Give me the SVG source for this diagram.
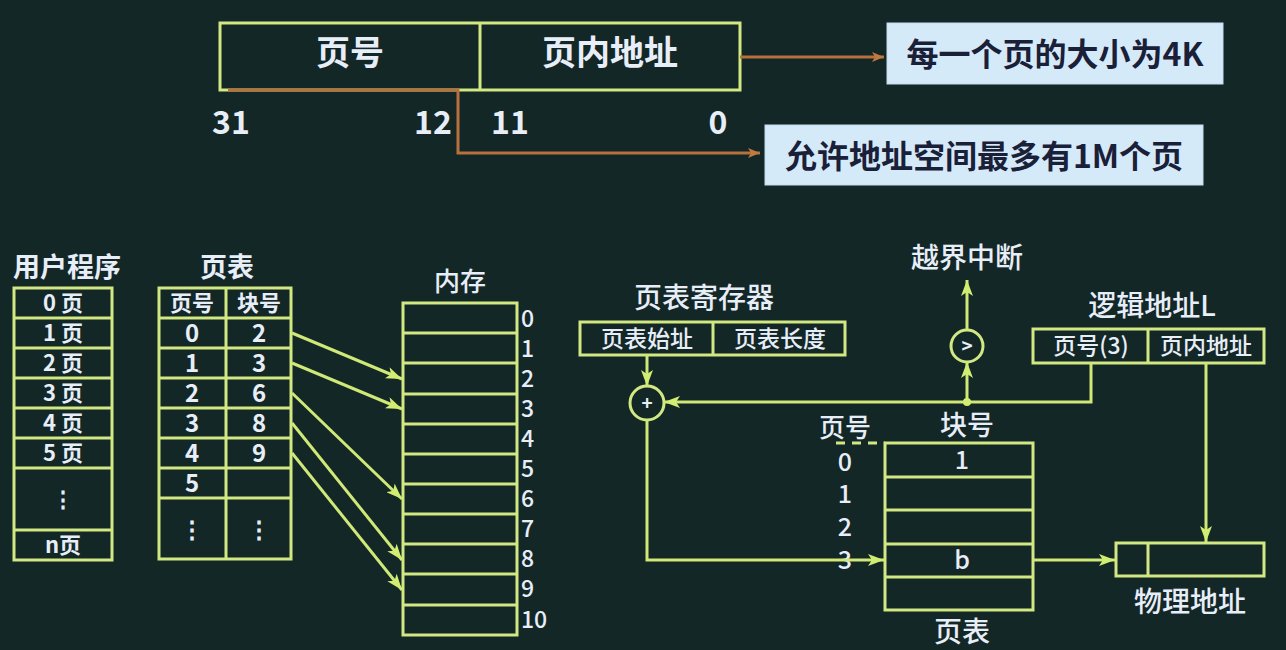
<svg xmlns="http://www.w3.org/2000/svg" width="1286" height="650" viewBox="0 0 1286 650">
<defs>
<style>
.g{fill:none;stroke:#d2e882;stroke-width:3}
.gl{fill:none;stroke:#cfe877;stroke-width:3}
.or{fill:none;stroke:#b8713c;stroke-width:3}
.t{font-family:"Noto Sans CJK SC","Noto Sans",sans-serif;fill:#e8eef8;text-anchor:middle}
.b{font-weight:bold}
.m{font-weight:500}
.dk{font-family:"Noto Sans CJK SC","Noto Sans",sans-serif;fill:#1a2038;font-weight:bold;text-anchor:middle;font-size:32px}
.blue{fill:#d5eaf8;stroke:#c4dcee;stroke-width:1}
</style>
<marker id="ag" markerUnits="userSpaceOnUse" markerWidth="18" markerHeight="12" refX="16" refY="6" orient="auto">
<path d="M0,0 L16,6 L0,12 L4,6 z" fill="#d2ee70"/>
</marker>
<marker id="ao" markerUnits="userSpaceOnUse" markerWidth="14" markerHeight="10" refX="12" refY="5" orient="auto">
<path d="M0,0 L12,5 L0,10 L3,5 z" fill="#c07a40"/>
</marker>
</defs>
<rect width="1286" height="650" fill="#132727"/>

<g id="logical-address-format">
<rect x="220" y="23" width="520" height="67" class="g" fill="#112222"/>
<line x1="480" y1="23" x2="480" y2="90" class="g"/>
<text x="350" y="65" class="t b" font-size="34">页号</text>
<text x="610" y="65" class="t b" font-size="34">页内地址</text>
<text x="231" y="134" class="t b" font-size="32">31</text>
<text x="433" y="134" class="t b" font-size="32">12</text>
<text x="510" y="134" class="t b" font-size="32">11</text>
<text x="718" y="134" class="t b" font-size="32">0</text>
</g>

<g id="note-page-size">
<rect x="887" y="23" width="336" height="61" class="blue"/>
<text x="1055" y="66" class="dk">每一个页的大小为4K</text>
</g>
<g id="note-page-count">
<rect x="765" y="125" width="438" height="60" class="blue"/>
<text x="984" y="168" class="dk">允许地址空间最多有1M个页</text>
</g>

<g id="user-program">
<text x="67" y="277" class="t b" font-size="27">用户程序</text>
<rect x="14" y="288" width="98" height="272" class="g" fill="#0d1c1c"/>
<path d="M14 318H112M14 348H112M14 378H112M14 408H112M14 438H112M14 468H112M14 530H112" class="g"/>
<g class="t b" font-size="22">
<text x="63" y="311">0 页</text>
<text x="63" y="341">1 页</text>
<text x="63" y="371">2 页</text>
<text x="63" y="401">3 页</text>
<text x="63" y="431">4 页</text>
<text x="63" y="461">5 页</text>
<text x="63" y="507">⋮</text>
<text x="63" y="553">n页</text>
</g>
</g>

<g id="page-table-left">
<text x="227" y="277" class="t b" font-size="27">页表</text>
<rect x="159" y="288" width="132" height="271" class="g" fill="#0d1c1c"/>
<path d="M226 288V559M159 318H291M159 348H291M159 378H291M159 408H291M159 438H291M159 468H291M159 498H291" class="g"/>
<g class="t b" font-size="22">
<text x="192" y="311">页号</text>
<text x="259" y="311">块号</text>
</g>
<g class="t b" font-size="24">
<text x="192" y="342">0</text><text x="259" y="342">2</text>
<text x="192" y="372">1</text><text x="259" y="372">3</text>
<text x="192" y="402">2</text><text x="259" y="402">6</text>
<text x="192" y="432">3</text><text x="259" y="432">8</text>
<text x="192" y="462">4</text><text x="259" y="462">9</text>
<text x="192" y="492">5</text>
<text x="192" y="538">⋮</text><text x="259" y="538">⋮</text>
</g>
</g>

<g id="memory">
<text x="460" y="291" class="t m" font-size="26">内存</text>
<rect x="403" y="303" width="114" height="332" class="g" fill="#0d1c1c"/>
<path d="M403 333H517M403 363H517M403 394H517M403 424H517M403 454H517M403 484H517M403 514H517M403 544H517M403 574H517M403 605H517" class="g"/>
<g class="t m" font-size="23" style="text-anchor:start">
<text x="521" y="327">0</text>
<text x="521" y="357">1</text>
<text x="521" y="387">2</text>
<text x="521" y="417">3</text>
<text x="521" y="447">4</text>
<text x="521" y="477">5</text>
<text x="521" y="507">6</text>
<text x="521" y="537">7</text>
<text x="521" y="567">8</text>
<text x="521" y="597">9</text>
<text x="521" y="628">10</text>
</g>
</g>

<g id="page-table-register">
<text x="704" y="308" class="t m" font-size="28">页表寄存器</text>
<rect x="580" y="322" width="265" height="33" class="g" fill="#0d1c1c"/>
<line x1="713" y1="322" x2="713" y2="355" class="g"/>
<text x="647" y="347" class="t m" font-size="23">页表始址</text>
<text x="780" y="347" class="t m" font-size="23">页表长度</text>
</g>

<g id="adder">
<circle cx="647" cy="403" r="17" class="g" fill="#0d1c1c"/>
<text x="647" y="410" class="t b" font-size="19">+</text>
</g>

<g id="comparator">
<circle cx="967" cy="346" r="16" class="g" fill="#0d1c1c"/>
<text x="967" y="353" class="t b" font-size="19">&gt;</text>
</g>
<text id="overflow-label" x="967" y="268" class="t m" font-size="28">越界中断</text>

<g id="logical-address">
<text x="1152" y="316" class="t m" font-size="28">逻辑地址L</text>
<rect x="1033" y="329" width="231" height="34" class="g" fill="#0d1c1c"/>
<line x1="1148" y1="329" x2="1148" y2="363" class="g"/>
<text x="1091" y="354" class="t m" font-size="23">页号(3)</text>
<text x="1206" y="354" class="t m" font-size="23">页内地址</text>
</g>

<g id="page-table-right">
<text x="845" y="437" class="t m" font-size="26">页号</text>
<text x="967" y="435" class="t m" font-size="27">块号</text>
<line x1="836" y1="443" x2="885" y2="443" class="g" stroke-dasharray="9,7"/>
<rect x="885" y="443" width="148" height="167" class="g" fill="#0d1c1c"/>
<path d="M885 477H1033M885 510H1033M885 544H1033M885 577H1033" class="g"/>
<g class="t m" font-size="25">
<text x="845" y="471">0</text>
<text x="845" y="503">1</text>
<text x="845" y="536">2</text>
<text x="845" y="569">3</text>
<text x="962" y="469">1</text>
<text x="962" y="569">b</text>
</g>
<text x="962" y="642" class="t m" font-size="28">页表</text>
</g>

<g id="physical-address">
<rect x="1116" y="543" width="148" height="33" class="g" fill="#0d1c1c"/>
<line x1="1148" y1="543" x2="1148" y2="576" class="g"/>
<text x="1190" y="612" class="t m" font-size="28">物理地址</text>
</g>

<g id="connectors">
<path d="M228 90H458V153H760" class="or" marker-end="url(#ao)"/>
<path d="M740 57H884" class="or" marker-end="url(#ao)"/>
<path d="M292 333L402 379" class="gl" marker-end="url(#ag)"/>
<path d="M292 363L402 409" class="gl" marker-end="url(#ag)"/>
<path d="M292 393L402 499" class="gl" marker-end="url(#ag)"/>
<path d="M292 423L402 560" class="gl" marker-end="url(#ag)"/>
<path d="M292 453L402 590" class="gl" marker-end="url(#ag)"/>
<path d="M647 355V386" class="gl" marker-end="url(#ag)"/>
<path d="M1091 363V402H664" class="gl" marker-end="url(#ag)"/>
<path d="M967 402V362" class="gl" marker-end="url(#ag)"/>
<circle cx="967" cy="402" r="4" fill="#d2ee70"/>
<path d="M967 330V280" class="gl" marker-end="url(#ag)"/>
<path d="M647 420V560H884" class="gl" marker-end="url(#ag)"/>
<path d="M1033 560H1115" class="gl" marker-end="url(#ag)"/>
<path d="M1206 363V542" class="gl" marker-end="url(#ag)"/>
</g>
</svg>
